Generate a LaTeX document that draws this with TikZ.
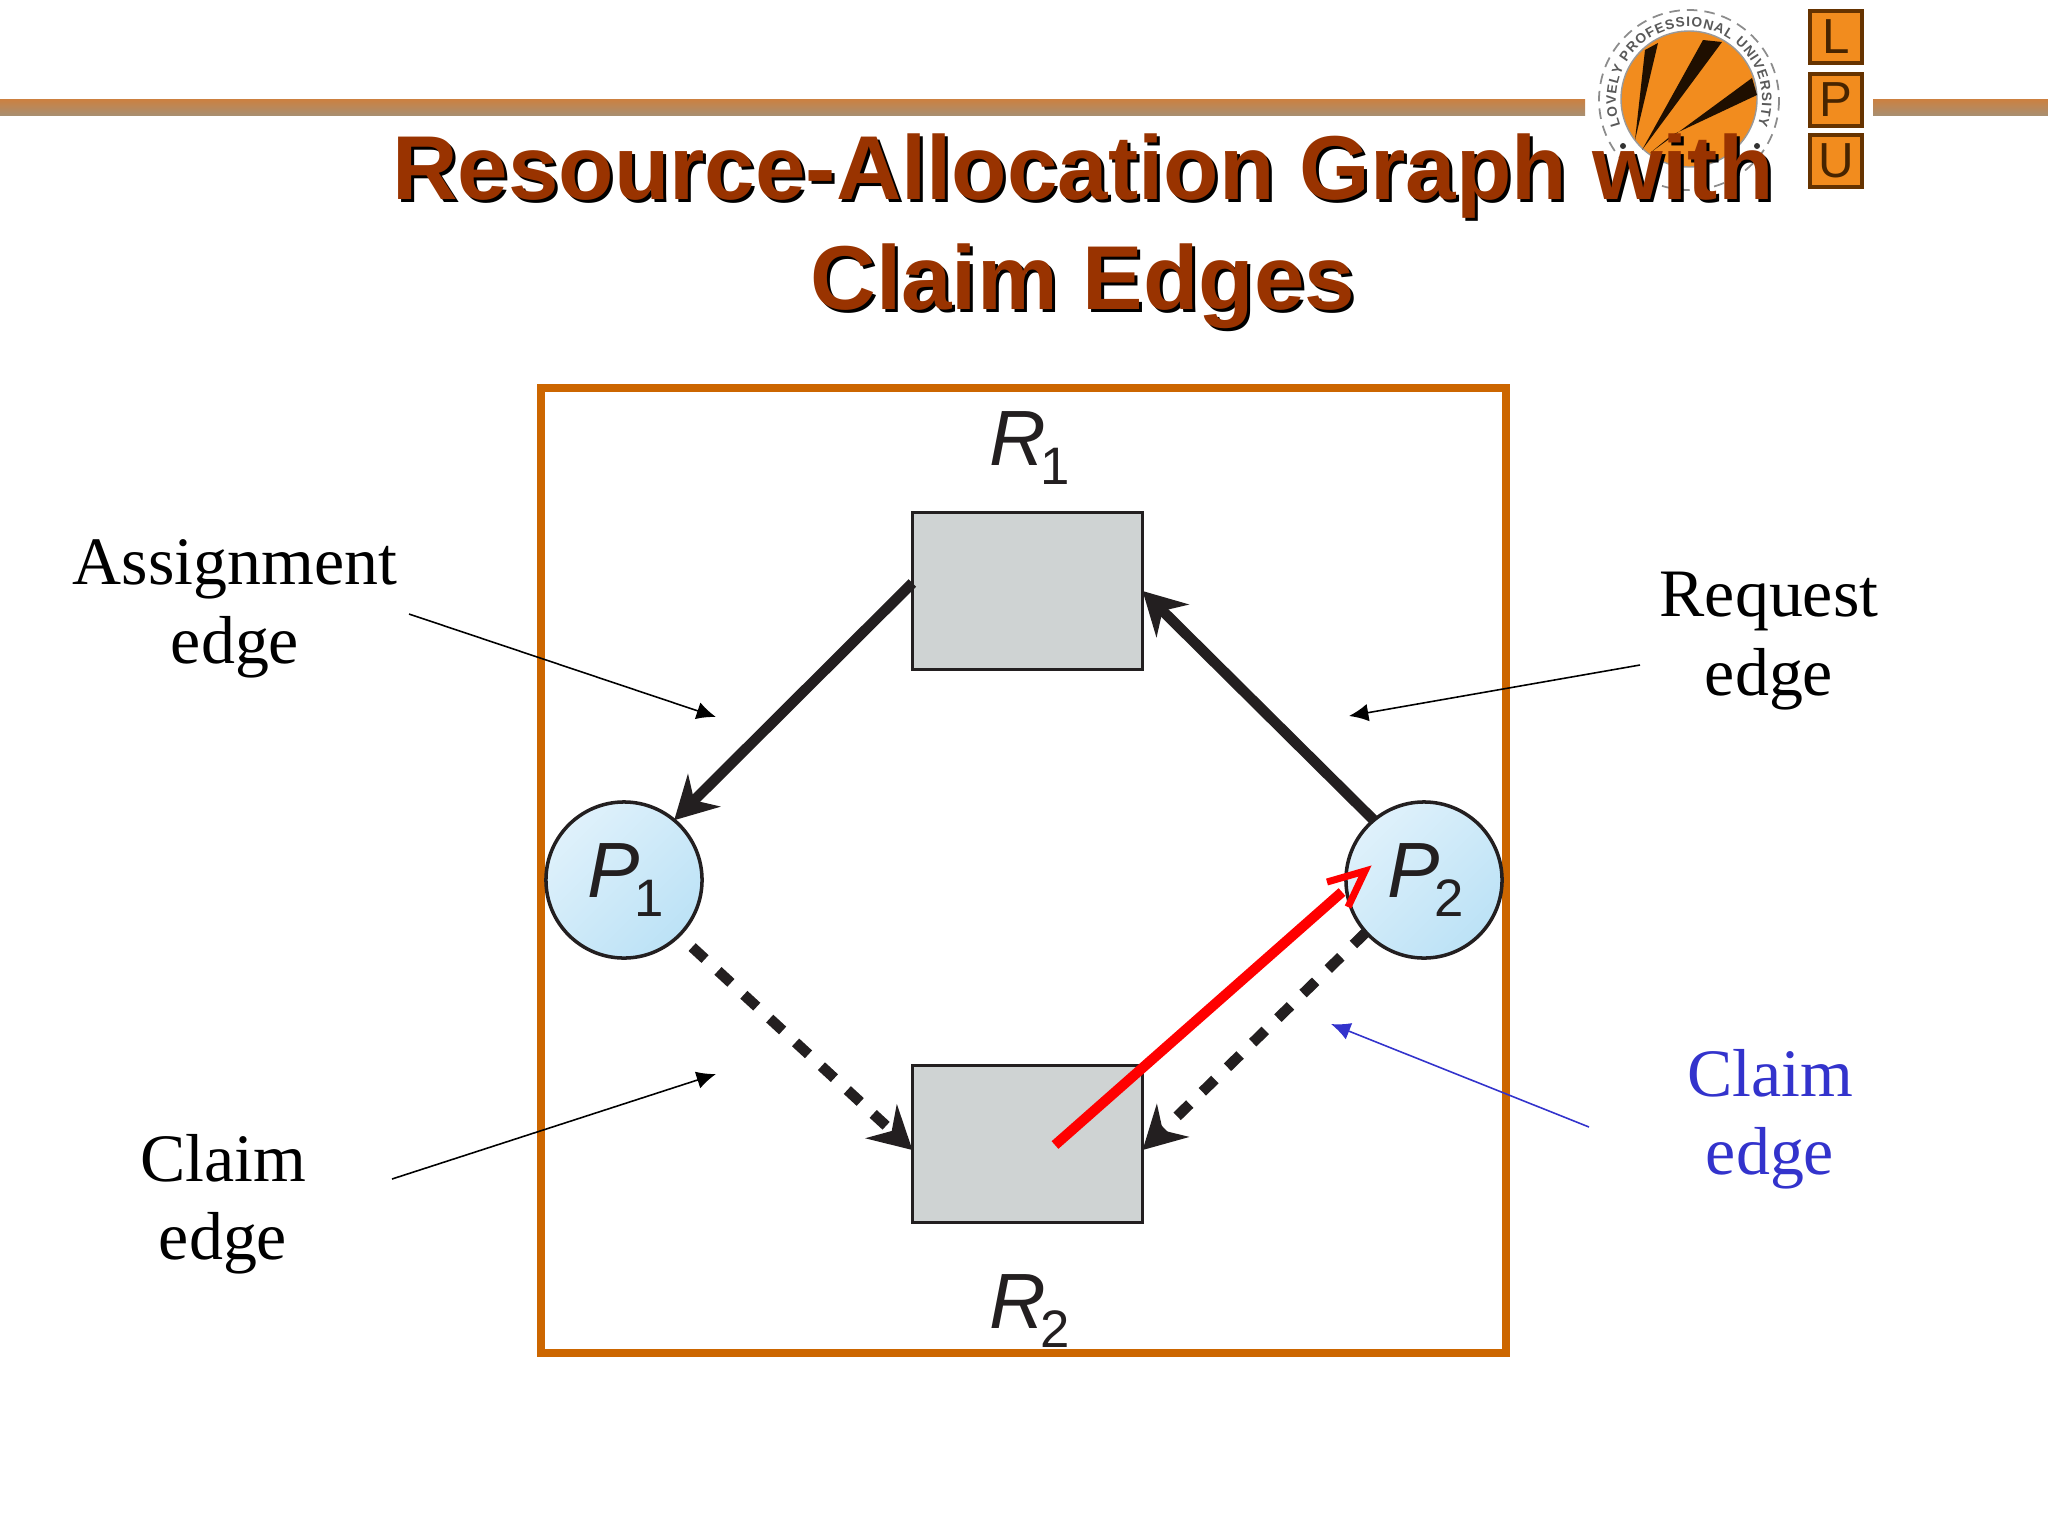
\documentclass[tikz,border=0pt]{standalone}
\usepackage{fontspec}
\setmainfont{Liberation Serif}
\setsansfont{Liberation Sans}
\usetikzlibrary{arrows.meta}
\usetikzlibrary{decorations.text}
\usetikzlibrary{positioning}
\definecolor{titlebrown}{HTML}{993300}
\definecolor{frameorange}{HTML}{CC6600}
\definecolor{claimblue}{HTML}{3333CC}
\definecolor{figink}{HTML}{231F20}
\definecolor{resgray}{HTML}{CFD3D3}
\definecolor{lpuorange}{HTML}{F28C1E}
\definecolor{hdrtop}{HTML}{CC8040}
\definecolor{hdrbot}{HTML}{A98F70}
\definecolor{proclight}{HTML}{DFF1FB}
\definecolor{procdark}{HTML}{BCE2F6}
\newcommand{\indexed}[2]{\kern1pt\textit{#1}\kern-1.6pt\raisebox{-5.5pt}{\fontsize{15}{15}\selectfont #2}}
\tikzset{titletext/.style = {font=\sffamily\bfseries\fontsize{25.8}{31.3}\selectfont, align=center, inner sep=0, anchor=north}}
\tikzset{sidetext/.style = {font=\fontsize{19.3}{22.3}\selectfont, align=center, inner sep=0}}
\tikzset{figtext/.style = {font=\sffamily\fontsize{22.3}{24}\selectfont, text=figink, inner sep=0}}
\tikzset{mres/.style = {rectangle, draw=figink, line width=0.9pt, fill=resgray, minimum width=2.3cm, minimum height=1.57cm, outer sep=0}}
\tikzset{mproc/.style = {circle, draw=figink, line width=1pt, top color=proclight, bottom color=procdark, shading angle=45, minimum size=1.56cm, outer sep=0, figtext}}
\tikzset{graphedge/.style = {draw=figink, line width=3pt, -{Stealth[length=12pt, width=13pt, inset=4pt]}}}
\tikzset{dashededge/.style = {graphedge, dash pattern=on 5pt off 5pt}}
\tikzset{pointer/.style = {line width=0.45pt, -{Latex[length=5.5pt, width=5pt]}}}
\tikzset{hdrline/.style = {top color=hdrtop, bottom color=hdrbot, draw=none}}
\tikzset{lpubox/.style = {rectangle, draw=black!50!frameorange, line width=1pt, fill=lpuorange, minimum width=0.52cm, minimum height=0.52cm, inner sep=0, outer sep=0, text=black!65!frameorange, font=\sffamily\fontsize{14}{14}\selectfont}}

\begin{document}
\begin{tikzpicture}[x=0.01cm, y=-0.01cm]
      \useasboundingbox (0, 0) rectangle (2048, 1536);

      \path [hdrline] (0, 99) rectangle (1585, 115);
      \path [hdrline] (1873, 99) rectangle (2048, 115);

      \draw [black!45, line width=0.5pt, densely dashed] (1689, 100) circle (90);
      \fill [lpuorange] (1689, 99) circle (68);
      \draw [black!40, line width=0.4pt] (1689, 99) circle (68);
      \fill [black!85!frameorange] (1645, 50) -- (1658, 43) -- (1635, 140) -- cycle;
      \fill [black!85!frameorange] (1703, 40) -- (1722, 42) -- (1642, 150) -- cycle;
      \fill [black!85!frameorange] (1752, 78) -- (1757, 95) -- (1672, 135) -- (1650, 153) -- cycle;
      \path [decorate, decoration={text along path, text align={fit to path},
          text={|\sffamily\bfseries\fontsize{3.9}{5}\selectfont\color{black!65}|LOVELY PROFESSIONAL UNIVERSITY}}]
        (1689, 100) ++(200:0.73cm) arc [start angle=200, end angle=-20, radius=0.73cm];
      \fill [black!80] (1623, 146) circle (3);
      \fill [black!80] (1757, 146) circle (3);

      \node [lpubox] (lpul) at (1836, 37) {L};
      \node [lpubox] (lpup) at (1836, 100) {P};
      \node [lpubox] (lpuu) at (1836, 161) {U};

      \node [titletext, black] (titleshadow) at (1086, 136) {Resource-Allocation Graph with\\Claim Edges};
      \node [titletext, titlebrown] (title) at (1083, 133) {Resource-Allocation Graph with\\Claim Edges};

      \draw [frameorange, line width=2.3pt] (541, 388) rectangle (1506, 1353);

      \node [mres] (r1) at (1027.5, 591) {};
      \node [figtext, above=0.27cm of r1] (r1label) {\indexed{R}{1}};

      \node [mres] (r2) at (1027.5, 1144) {};
      \node [figtext, below=0.51cm of r2] (r2label) {\indexed{R}{2}};

      \node [mproc] (p1) at (624, 880) {\indexed{P}{1}};
      \node [mproc] (p2) at (1424, 880) {\indexed{P}{2}};

      \draw [graphedge] (r1.176) -- (p1.50);
      \draw [graphedge] (p2.130) -- (r1.east);
      \draw [dashededge, shorten <=5pt] (p1.-45) -- (r2.183);
      \draw [dashededge] (p2.222) -- (r2.-3);

      \coordinate (claimtail) at (1055, 1145);
      \coordinate (claimend) at (1342, 892);
      \coordinate (claimtip) at (1365, 871);
      \coordinate (claimbarba) at (1327, 882);
      \coordinate (claimbarbb) at (1348, 907);
      \draw [red, line width=2.9pt] (claimtail) -- (claimend);
      \draw [red, line width=2pt, miter limit=10] (claimbarba) -- (claimtip) -- (claimbarbb);

      \node [sidetext] (assign) at (235, 609) {Assignment\\edge};
      \node [sidetext] (request) at (1769, 641) {Request\\edge};
      \node [sidetext] (claimleft) at (223, 1204) {Claim\\edge};
      \node [sidetext, claimblue] (claimright) at (1770, 1119) {Claim\\edge};

      \coordinate (assignfrom) at (409, 614);
      \coordinate (assignto) at (716, 717);
      \coordinate (requestfrom) at (1640, 665);
      \coordinate (requestto) at (1349, 716);
      \coordinate (claimleftfrom) at (392, 1179);
      \coordinate (claimleftto) at (716, 1074);
      \coordinate (claimrightfrom) at (1589, 1127);
      \coordinate (claimrightto) at (1331, 1024);
      \draw [pointer] (assignfrom) -- (assignto);
      \draw [pointer] (requestfrom) -- (requestto);
      \draw [pointer] (claimleftfrom) -- (claimleftto);
      \draw [pointer, claimblue] (claimrightfrom) -- (claimrightto);
    \end{tikzpicture}
\end{document}
